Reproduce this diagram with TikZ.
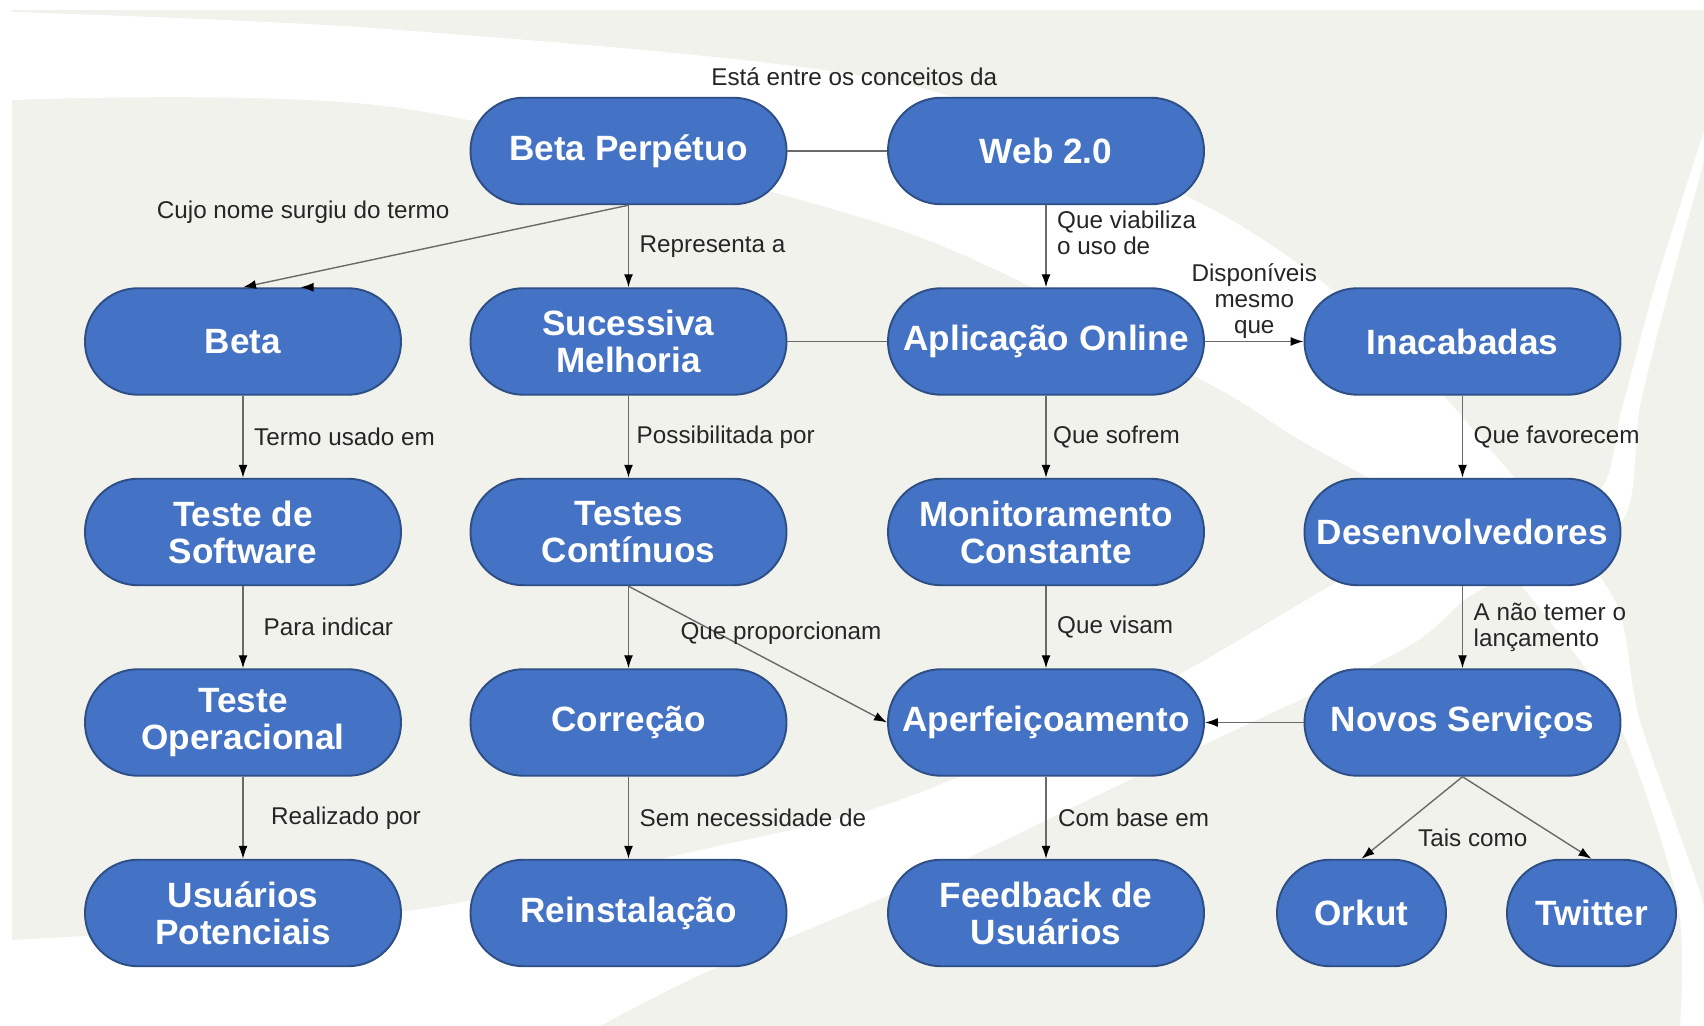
\documentclass[tikz,border=0pt]{standalone}
\usepackage{fontspec}
\setmainfont{Liberation Sans}
\usepackage{tikz}
\usetikzlibrary{arrows.meta}

\definecolor{fundo}{HTML}{F2F2EC}
\definecolor{azul}{HTML}{4472C4}
\definecolor{azulborda}{HTML}{2D4F86}
\definecolor{traco}{HTML}{6A6A6A}
\definecolor{letra}{HTML}{262626}

\tikzset{
  conceito/.style={draw=azulborda, line width=1.1pt, fill=azul, text=white,
    font=\bfseries\fontsize{20}{21}\selectfont, align=center, inner sep=0pt,
    rounded corners=1.06cm, minimum width=6.32cm, minimum height=2.13cm},
  pequeno/.style={conceito, minimum width=3.38cm},
  liga/.style={draw=traco, line width=0.8pt},
  seta/.style={liga, -{Latex[length=2.6mm, width=1.8mm, black]}},
  rotulo/.style={text=letra, font=\fontsize{13.8}{14.8}\selectfont,
    align=left, inner sep=2pt}
}

\begin{document}
\begin{tikzpicture}
\useasboundingbox (0,0) rectangle (34.08,20.52);

% fundo e faixas brancas
\fill[white] (0,0) rectangle (34.08,20.52);
\fill[fundo] (0.24,0) rectangle (34.08,20.32);
\fill[white] plot[smooth] coordinates {(0.24,20.28) (8,19.92) (18,18.86) (24.08,16.42) (27.6,13.92) (30.6,10.6) (32.3,8.5) (32.8,6.1) (34.05,2.5) (34.08,1.5)}
  -- (34.08,0)
  -- plot[smooth] coordinates {(33.6,0) (33.55,2.5) (32.35,6.1) (30.66,8.52) (29.4,9.8) (26,11.72) (24.08,12.9) (18,15.92) (8,18.36) (0.24,18.52)} -- cycle;
\fill[white] plot[smooth] coordinates {(0.24,1.72) (8,2.28) (14,3.52) (18,4.52) (23,6.72) (27,9.02) (29.6,10.2) (31.9,10.6) (32.45,12.4) (33.1,14.8) (34.08,17.9)}
  -- (34.08,17.3)
  -- plot[smooth] coordinates {(33.4,14.8) (32.8,12.4) (32.5,10.2) (31,9.4) (29.4,8.6) (28,7.5) (23,5.12) (18,2.72) (14,1.02) (12,0)} -- (0.24,0) -- cycle;

% conceitos
\node[conceito] (betaperp) at (12.57,17.5) {Beta Perpétuo};
\node[conceito] (web) at (20.92,17.5) {Web 2.0};

\node[conceito] (beta) at (4.86,13.69) {Beta};
\node[conceito] (sucessiva) at (12.57,13.69) {Sucessiva\\Melhoria};
\node[conceito] (aplicacao) at (20.92,13.69) {Aplicação Online};
\node[conceito] (inacabadas) at (29.25,13.69) {Inacabadas};

\node[conceito] (testesw) at (4.86,9.88) {Teste de\\Software};
\node[conceito] (testes) at (12.57,9.88) {Testes\\Contínuos};
\node[conceito] (monitor) at (20.92,9.88) {Monitoramento\\Constante};
\node[conceito] (desenv) at (29.25,9.88) {Desenvolvedores};

\node[conceito] (testeop) at (4.86,6.07) {Teste\\Operacional};
\node[conceito] (correcao) at (12.57,6.07) {Correção};
\node[conceito] (aperf) at (20.92,6.07) {Aperfeiçoamento};
\node[conceito] (novos) at (29.25,6.07) {Novos Serviços};

\node[conceito] (usuarios) at (4.86,2.26) {Usuários\\Potenciais};
\node[conceito] (reinst) at (12.57,2.26) {Reinstalação};
\node[conceito] (feedback) at (20.92,2.26) {Feedback de\\Usuários};
\node[pequeno] (orkut) at (27.23,2.26) {Orkut};
\node[pequeno] (twitter) at (31.83,2.26) {Twitter};

% ligacoes
\draw[liga] (betaperp) -- node[rotulo, xshift=0.34cm, yshift=1.48cm] (lentre) {Está entre os conceitos da} (web);
\draw[seta] (betaperp.south) -- node[rotulo, pos=0.844, yshift=1.24cm] (lcujo) {Cujo nome surgiu do termo} (beta.north);
\draw[seta] ([xshift=1.45cm]beta.north) -- ([xshift=1.15cm]beta.north);
\draw[seta] (betaperp) -- node[rotulo, right=0.14cm] (lrepr) {Representa a} (sucessiva);
\draw[seta] (web) -- node[rotulo, pos=0.34, right=0.14cm] (lviab) {Que viabiliza\\o uso de} (aplicacao);

\draw[liga] (sucessiva) -- (aplicacao);
\draw[seta] (aplicacao) -- node[rotulo, above, align=center, inner sep=1pt] (ldisp) {Disponíveis\\mesmo\\que} (inacabadas);

\draw[seta] (beta) -- node[rotulo, right=0.14cm] (ltermo) {Termo usado em} (testesw);
\draw[seta] (sucessiva) -- node[rotulo, right=0.08cm] (lposs) {Possibilitada por} (testes);
\draw[seta] (aplicacao) -- node[rotulo, right=0.06cm] (lsofr) {Que sofrem} (monitor);
\draw[seta] (inacabadas) -- node[rotulo, right=0.14cm] (lfavo) {Que favorecem} (desenv);

\draw[seta] (testesw) -- node[rotulo, right=0.33cm] (lpara) {Para indicar} (testeop);
\draw[seta] (testes) -- (correcao);
\draw[seta] (testes.south) -- node[rotulo, pos=0.59, yshift=0.67cm] (lprop) {Que proporcionam} (aperf.west);
\draw[seta] (monitor) -- node[rotulo, right=0.14cm] (lvisa) {Que visam} (aperf);
\draw[seta] (desenv) -- node[rotulo, right=0.14cm] (ltemer) {A não temer o\\lançamento} (novos);
\draw[seta] (novos) -- (aperf);

\draw[seta] (testeop) -- node[rotulo, right=0.48cm] (lreal) {Realizado por} (usuarios);
\draw[seta] (correcao) -- node[rotulo, right=0.14cm] (lsem) {Sem necessidade de} (reinst);
\draw[seta] (aperf) -- node[rotulo, right=0.16cm] (lbase) {Com base em} (feedback);
\draw[seta] (novos.south) -- (orkut.north);
\draw[seta] (novos.south) -- node[rotulo, pos=0.75, xshift=-1.73cm] (ltais) {Tais como} (twitter.north);

\end{tikzpicture}
\end{document}
